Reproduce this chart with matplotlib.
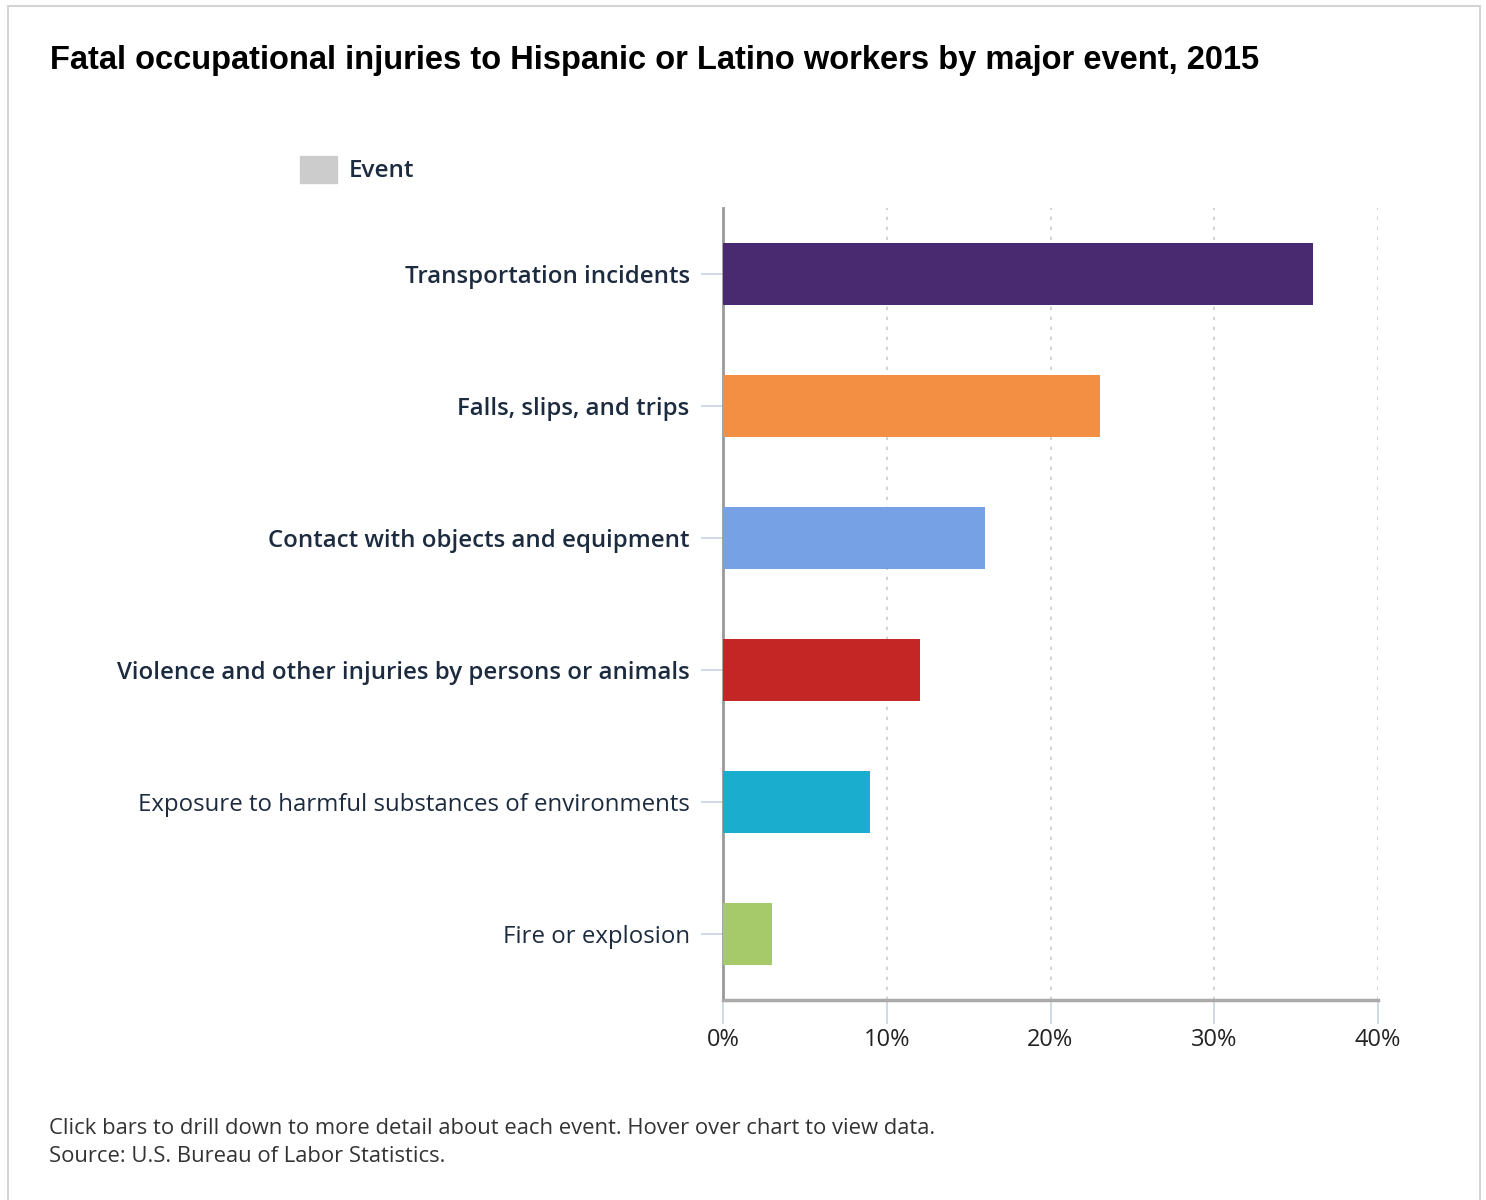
import matplotlib
matplotlib.use("Agg")
import matplotlib.pyplot as plt
from matplotlib.patches import Rectangle

# fatal injuries by major event, share of total (%)
events = [
    "Transportation incidents",
    "Falls, slips, and trips",
    "Contact with objects and equipment",
    "Violence and other injuries by persons or animals",
    "Exposure to harmful substances of environments",
    "Fire or explosion",
]
shares = [36, 23, 16, 12, 9, 3]
colors = ["#492970", "#f28f43", "#77a1e5", "#c42525", "#1aadce", "#a6c96a"]
bold_label = [True, True, True, True, False, False]
xticks = [0, 10, 20, 30, 40]

LABEL = "#1c2b3f"

fig = plt.figure(figsize=(14.86, 12), dpi=100)
fig.patch.set_facecolor("white")

# outer frame
fig.add_artist(Rectangle((8 / 1486, -0.01), 1472 / 1486, 1 - 6 / 1200 + 0.01,
                         transform=fig.transFigure, fill=False,
                         edgecolor="#d4d4d4", lw=1.5))

ax = fig.add_axes([723 / 1486, 1 - 1000 / 1200, 655 / 1486, 792 / 1200])
ypos = list(range(len(events)))
ax.barh(ypos, shares, height=0.47, color=colors, zorder=3)
ax.set_ylim(len(events) - 0.5, -0.5)
ax.set_xlim(0, 40)

ax.set_xticks(xticks)
ax.set_xticklabels([f"{t}%" for t in xticks], fontsize=17, family="Open Sans",
                   color="#222222")
ax.set_yticks(ypos)
ax.set_yticklabels(events, fontsize=17.3, family="Open Sans", color=LABEL)
for lbl, b in zip(ax.get_yticklabels(), bold_label):
    lbl.set_fontweight("semibold" if b else "normal")

ax.tick_params(axis="y", length=16, width=1.2, color="#c8d4e2", pad=8)
ax.tick_params(axis="x", length=17, width=1.2, color="#c8d4e2", pad=3)

for t in xticks[1:]:
    ax.axvline(t, color="#cccccc", lw=1.2, ls=(0, (2, 4)), zorder=1)

for side in ["top", "right"]:
    ax.spines[side].set_visible(False)
ax.spines["left"].set_color("#999999")
ax.spines["left"].set_linewidth(2)
ax.spines["bottom"].set_color("#aaaaaa")
ax.spines["bottom"].set_linewidth(2.5)

fig.text(50 / 1486, 1 - 61 / 1200, "Fatal occupational injuries to Hispanic or Latino workers by major event, 2015",
         fontsize=23.5, fontweight="bold", family="Liberation Sans", color="black", va="center")

# legend
fig.add_artist(Rectangle((300 / 1486, 1 - 183 / 1200), 37 / 1486, 27 / 1200,
                         transform=fig.transFigure, color="#cccccc"))
fig.text(349 / 1486, 1 - 171 / 1200, "Event", fontsize=17.5, fontweight="semibold",
         family="Open Sans", color=LABEL, va="center")

fig.text(49 / 1486, 1 - 1128 / 1200,
         "Click bars to drill down to more detail about each event. Hover over chart to view data.",
         fontsize=15.8, family="Open Sans", color="#333333", va="center")
fig.text(49 / 1486, 1 - 1156 / 1200, "Source: U.S. Bureau of Labor Statistics.",
         fontsize=15.8, family="Open Sans", color="#333333", va="center")

fig.savefig("out.png", dpi=100)
